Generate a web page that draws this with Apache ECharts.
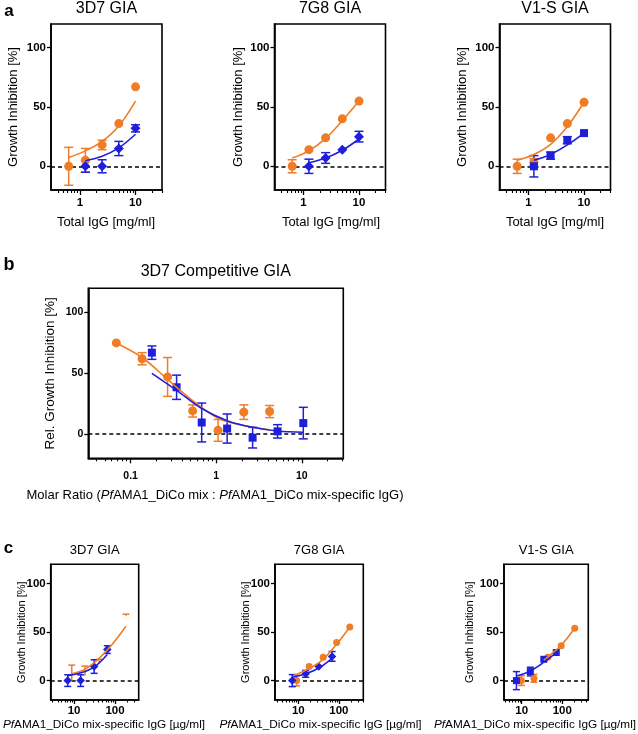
<!DOCTYPE html>
<html><head><meta charset="utf-8">
<script src="https://cdn.jsdelivr.net/npm/echarts@6/dist/echarts.min.js"></script>
<style>html,body{margin:0;padding:0;background:#fff}#c{width:638px;height:734px}</style>
</head><body><div id="c"></div>
<script>
// ---------------- DATA ----------------
// Panel a : x = Total IgG [mg/ml]
const aOrangeX = [0.625, 1.25, 2.5, 5, 10];
const aBlueX = [1.25, 2.5, 5, 10];

const a3D7_orangeY = [0, 5, 18, 36, 67];
const a3D7_orangeErr = [16, 10, 4, 0, 0];
const a3D7_blueY = [0, 0, 15, 32];
const a3D7_blueErr = [5, 5.5, 6, 3];
const a3D7_orangeFitY = [7.5, 13, 21, 34, 55];
const a3D7_blueFitY = [4.7, 8.5, 15.5, 27];

const a7G8_orangeY = [0, 14, 24, 40, 55];
const a7G8_orangeErr = [5.5, 0, 0, 0, 0];
const a7G8_blueY = [0, 7, 14, 25];
const a7G8_blueErr = [6, 4.5, 0, 4.5];
const a7G8_orangeFitY = [7, 13, 23.5, 38.5, 55];
const a7G8_blueFitY = [3, 7, 13.5, 23];

const aV1S_orangeY = [0, 3.5, 24, 36, 54];
const aV1S_orangeErr = [6, 3, 0, 0, 0];
const aV1S_blueY = [0, 9, 22, 28];
const aV1S_blueErr = [9, 3, 3, 0];
const aV1S_orangeFitY = [5, 10, 18.5, 33.5, 54];
const aV1S_blueFitY = [5, 10, 18, 28];

// Panel b : x = molar ratio
const bOrangeX = [0.068, 0.136, 0.27, 0.53, 1.05, 2.1, 4.2];
const bOrangeY = [75, 62, 47, 19, 3, 18, 18.5];
const bOrangeErr = [0, 5, 16, 5, 9, 6, 5];
const bBlueX = [0.177, 0.344, 0.676, 1.34, 2.66, 5.2, 10.4];
const bBlueY = [67, 38.5, 9.5, 4.5, -3, 2.2, 9];
const bBlueErr = [5.5, 10, 16, 12, 8.5, 5.5, 13];
const bOrangeFitX = [0.068, 0.136, 0.27, 0.53, 1.05, 2.1, 4.2];
const bOrangeFitY = [75, 63, 45, 27.5, 13, 7, 3.5];
const bBlueFitX = [0.177, 0.344, 0.676, 1.34, 2.66, 5.2, 10.4];
const bBlueFitY = [50, 36, 21, 11, 5.5, 2.5, 1.5];

// Panel c : x = PfAMA1_DiCo mix-specific IgG [ug/ml]
const c3D7_blueX = [7.0, 14.5, 31, 65];
const c3D7_blueY = [0, 0, 14.5, 32];
const c3D7_blueErr = [6, 6, 7, 4];
const c3D7_orangeX = [8.8, 18.5, 41, 88, 186];
const c3D7_orangeY = [0, 5, 18, 36, 67];
const c3D7_orangeErr = [16, 10, 4, 0, 1.5];
const c3D7_orangeFitX = [8.8, 18.5, 41, 88, 186];
const c3D7_orangeFitY = [7, 11.8, 23, 38, 56];
const c3D7_blueFitX = [7.0, 14.5, 31, 65];
const c3D7_blueFitY = [5, 8, 14, 27];

const c7G8_blueX = [7.1, 15.2, 32, 68];
const c7G8_blueY = [0, 7, 14.5, 25];
const c7G8_blueErr = [6.2, 3.5, 0, 5];
const c7G8_orangeX = [9.1, 18.6, 41, 88, 186];
const c7G8_orangeY = [0, 14.5, 24, 39.4, 55.4];
const c7G8_orangeErr = [5.5, 0, 0, 0, 0];
const c7G8_orangeFitX = [7.5, 18.6, 41, 88, 186];
const c7G8_orangeFitY = [5, 12.5, 22, 37.5, 55.4];
const c7G8_blueFitX = [7.1, 15.2, 32, 68];
const c7G8_blueFitY = [3.5, 7, 13, 23];

const cV1S_blueX = [7.4, 16.3, 35, 71];
const cV1S_blueY = [0, 9.3, 22, 29];
const cV1S_blueErr = [9.3, 4.5, 0, 0];
const cV1S_orangeX = [9.8, 20, 44, 94, 202];
const cV1S_orangeY = [0, 2.4, 24, 36, 54];
const cV1S_orangeErr = [5, 4, 0, 0, 0];
const cV1S_orangeFitX = [35, 44, 94, 202];
const cV1S_orangeFitY = [21, 24.5, 36.5, 54];
const cV1S_blueFitX = [7.4, 16.3, 35, 71];
const cV1S_blueFitY = [4.8, 10, 19, 29];

// Tick labels
const yTickValues = [0, 50, 100];
const aXLabels = [1, 10];
const aMinorTicks = [0.4, 0.5, 0.6, 0.7, 0.8, 0.9, 2, 3, 4, 5, 6, 7, 8, 9, 20, 30];
const bXLabels = [0.1, 1, 10];
const bMinorTicks = [0.04, 0.05, 0.06, 0.07, 0.08, 0.09, 0.2, 0.3, 0.4, 0.5, 0.6, 0.7, 0.8, 0.9, 2, 3, 4, 5, 6, 7, 8, 9, 20, 30];
const cXLabels = [10, 100];
const cMinorTicks = [3, 4, 5, 6, 7, 8, 9, 20, 30, 40, 50, 60, 70, 80, 90, 200, 300, 400];

// ---------------- RENDER ----------------
const ORANGE = '#EF7C26', BLUE = '#1F1FD9';
const FONT = '"Liberation Sans", Arial, Helvetica, sans-serif';
const option = { animation: false, backgroundColor: '#fff', grid: [], xAxis: [], yAxis: [], series: [], graphic: [] };

function pairs(xs, ys) { return xs.map((x, i) => [x, ys[i]]); }

function addText(text, x, y, size, opts) {
  opts = opts || {};
  option.graphic.push({
    type: 'text', x: x, y: y, rotation: opts.rot || 0, silent: true,
    style: {
      text: text, fontSize: size, fontFamily: FONT, fontWeight: opts.bold ? 'bold' : 'normal',
      fill: '#000', align: opts.align || 'center', verticalAlign: 'middle',
      rich: { i: { fontStyle: 'italic', fontSize: size, fontFamily: FONT, fill: '#000' } }
    }
  });
}

function addPanel(p) {
  const gi = option.grid.length;
  option.grid.push({ left: p.left, top: p.top, width: p.width, height: p.height, show: true, borderColor: '#000', borderWidth: 1.6, backgroundColor: 'transparent' });
  const lmin = Math.log10(p.xmin), lmax = Math.log10(p.xmax);
  const xi = option.xAxis.length;
  option.xAxis.push({ type: 'log', logBase: 10, gridIndex: gi, min: p.xmin, max: p.xmax,
    axisLine: { show: false }, axisTick: { show: false }, axisLabel: { show: false }, splitLine: { show: false } });
  option.xAxis.push({ type: 'value', gridIndex: gi, min: lmin, max: lmax, position: 'bottom',
    axisLine: { show: true, onZero: false, lineStyle: { color: '#000', width: 1.6 } },
    axisTick: { show: true, customValues: p.labels.map(Math.log10), length: p.majorLen, lineStyle: { color: '#000', width: 1.3 } },
    axisLabel: { customValues: p.labels.map(Math.log10), formatter: v => String(+Math.pow(10, v).toPrecision(3)),
      fontFamily: FONT, fontSize: p.tickFont, fontWeight: 'bold', color: '#000', margin: p.xLabelMargin },
    splitLine: { show: false } });
  option.xAxis.push({ type: 'value', gridIndex: gi, min: lmin, max: lmax, position: 'bottom',
    axisLine: { show: false, onZero: false },
    axisTick: { show: true, customValues: p.minor.map(Math.log10), length: p.minorLen, lineStyle: { color: '#000', width: 1.1 } },
    axisLabel: { show: false }, splitLine: { show: false } });
  const yi = option.yAxis.length;
  option.yAxis.push({ type: 'value', gridIndex: gi, min: -20, max: 120,
    axisLine: { show: true, onZero: false, lineStyle: { color: '#000', width: 1.6 } },
    axisTick: { show: true, customValues: yTickValues, length: 4, lineStyle: { color: '#000', width: 1.3 } },
    axisLabel: { customValues: yTickValues, fontFamily: FONT, fontSize: p.tickFont, fontWeight: 'bold', color: '#000', margin: 5 },
    splitLine: { show: false } });

  let first = true;
  p.sets.forEach(s => {
    const line = { type: 'line', xAxisIndex: xi, yAxisIndex: yi, data: pairs(s.fitX, s.fitY), smooth: 0.35,
      symbol: 'none', showSymbol: false, silent: true, lineStyle: { color: s.color, width: 1.6 } };
    if (first) {
      line.markLine = { silent: true, symbol: 'none', z: 1, animation: false, label: { show: false },
        lineStyle: { color: '#000', width: 1.7, type: [4, 3] }, data: [{ yAxis: 0 }] };
      first = false;
    }
    option.series.push(line);
    const errData = [];
    s.x.forEach((x, i) => {
      const e = s.err[i];
      if (e > 0) errData.push([x, s.y[i], s.upperOnly ? s.y[i] : s.y[i] - e, s.y[i] + e]);
    });
    const capW = p.capW, col = s.color;
    option.series.push({ type: 'custom', xAxisIndex: xi, yAxisIndex: yi, silent: true, encode: { x: 0, y: 1 },
      data: errData,
      renderItem: (params, api) => {
        const x = api.value(0), lo = api.value(2), hi = api.value(3), up = s.upperOnly;
        const a = api.coord([x, lo]), b = api.coord([x, hi]);
        const st = { stroke: col, lineWidth: 1.5, fill: null };
        const ch = [
          { type: 'line', shape: { x1: a[0], y1: a[1], x2: b[0], y2: b[1] }, style: st },
          { type: 'line', shape: { x1: b[0] - capW / 2, y1: b[1], x2: b[0] + capW / 2, y2: b[1] }, style: st }
        ];
        if (!up) ch.push({ type: 'line', shape: { x1: a[0] - capW / 2, y1: a[1], x2: a[0] + capW / 2, y2: a[1] }, style: st });
        return { type: 'group', children: ch };
      } });
    if (s.symbol !== 'none') {
      option.series.push({ type: 'scatter', xAxisIndex: xi, yAxisIndex: yi, silent: true, data: pairs(s.x, s.y),
        symbol: s.symbol, symbolSize: s.size, itemStyle: { color: s.color, opacity: 1 } });
    }
  });

  const cx = p.left + p.width / 2;
  addText(p.title, cx, p.titleY, p.titleFont);
  addText(p.yName, p.yNameX, p.top + p.height / 2, p.nameFont, { rot: Math.PI / 2 });
  addText(p.xName, p.xNameX, p.xNameY, p.xNameFont || p.nameFont);
}

// ----- panel a -----
const aCommon = { top: 24, width: 111, height: 166, xmin: 0.3, xmax: 30, labels: aXLabels, minor: aMinorTicks,
  tickFont: 11.5, xLabelMargin: 7, majorLen: 5, minorLen: 3, capW: 9, titleY: 9, titleFont: 16,
  yName: 'Growth Inhibition [%]', nameFont: 13, xName: 'Total IgG [mg/ml]', xNameY: 222 };
function aSets(oY, oE, bY, bE, oF, bF, bSym, bSize) {
  return [
    { color: ORANGE, x: aOrangeX, y: oY, err: oE, symbol: 'circle', size: 9, fitX: aOrangeX, fitY: oF },
    { color: BLUE, x: aBlueX, y: bY, err: bE, symbol: bSym, size: bSize, fitX: aBlueX, fitY: bF }
  ];
}
addPanel(Object.assign({}, aCommon, { left: 51, title: '3D7 GIA', yNameX: 13.5, xNameX: 106,
  sets: aSets(a3D7_orangeY, a3D7_orangeErr, a3D7_blueY, a3D7_blueErr, a3D7_orangeFitY, a3D7_blueFitY, 'diamond', 10) }));
addPanel(Object.assign({}, aCommon, { left: 274.5, title: '7G8 GIA', yNameX: 238.5, xNameX: 331,
  sets: aSets(a7G8_orangeY, a7G8_orangeErr, a7G8_blueY, a7G8_blueErr, a7G8_orangeFitY, a7G8_blueFitY, 'diamond', 10) }));
addPanel(Object.assign({}, aCommon, { left: 499.5, title: 'V1-S GIA', yNameX: 462, xNameX: 555,
  sets: aSets(aV1S_orangeY, aV1S_orangeErr, aV1S_blueY, aV1S_blueErr, aV1S_orangeFitY, aV1S_blueFitY, 'rect', 8) }));

// ----- panel b -----
addPanel({ left: 88.3, top: 288.3, width: 255, height: 170, xmin: 0.032, xmax: 30.5, labels: bXLabels, minor: bMinorTicks,
  tickFont: 10.5, xLabelMargin: 12, majorLen: 5, minorLen: 3, capW: 9, titleY: 271.5, titleFont: 16,
  title: '3D7 Competitive GIA', yName: 'Rel. Growth Inhibition [%]', yNameX: 50, nameFont: 13.5,
  xName: 'Molar Ratio ({i|Pf}AMA1_DiCo mix : {i|Pf}AMA1_DiCo mix-specific IgG)', xNameX: 215, xNameY: 495, xNameFont: 13,
  sets: [
    { color: ORANGE, x: bOrangeX, y: bOrangeY, err: bOrangeErr, symbol: 'circle', size: 9, fitX: bOrangeFitX, fitY: bOrangeFitY },
    { color: BLUE, x: bBlueX, y: bBlueY, err: bBlueErr, symbol: 'rect', size: 8, fitX: bBlueFitX, fitY: bBlueFitY }
  ] });

// ----- panel c -----
const cCommon = { top: 564.3, height: 135.7, labels: cXLabels, minor: cMinorTicks, tickFont: 11.5, xLabelMargin: 5,
  majorLen: 4, minorLen: 2.5, capW: 7, titleY: 550, titleFont: 13, yName: 'Growth Inhibition [%]', nameFont: 11,
  xName: '{i|Pf}AMA1_DiCo mix-specific IgG [µg/ml]', xNameY: 725, xNameFont: 11.8 };
addPanel(Object.assign({}, cCommon, { left: 50.7, width: 88, xmin: 2.69, xmax: 380, title: '3D7 GIA', yNameX: 21.7, xNameX: 104,
  sets: [
    { color: ORANGE, x: c3D7_orangeX, y: c3D7_orangeY, err: c3D7_orangeErr, upperOnly: true, symbol: 'none', size: 0, fitX: c3D7_orangeFitX, fitY: c3D7_orangeFitY },
    { color: BLUE, x: c3D7_blueX, y: c3D7_blueY, err: c3D7_blueErr, symbol: 'diamond', size: 8.5, fitX: c3D7_blueFitX, fitY: c3D7_blueFitY }
  ] }));
addPanel(Object.assign({}, cCommon, { left: 275, width: 88.3, xmin: 2.67, xmax: 400, title: '7G8 GIA', yNameX: 245.5, xNameX: 320.5,
  sets: [
    { color: ORANGE, x: c7G8_orangeX, y: c7G8_orangeY, err: c7G8_orangeErr, symbol: 'circle', size: 7, fitX: c7G8_orangeFitX, fitY: c7G8_orangeFitY },
    { color: BLUE, x: c7G8_blueX, y: c7G8_blueY, err: c7G8_blueErr, symbol: 'diamond', size: 8.5, fitX: c7G8_blueFitX, fitY: c7G8_blueFitY }
  ] }));
addPanel(Object.assign({}, cCommon, { left: 504, width: 84.3, xmin: 3.66, xmax: 437, title: 'V1-S GIA', yNameX: 470.3, xNameX: 535,
  sets: [
    { color: ORANGE, x: cV1S_orangeX, y: cV1S_orangeY, err: cV1S_orangeErr, symbol: 'circle', size: 7, fitX: cV1S_orangeFitX, fitY: cV1S_orangeFitY },
    { color: BLUE, x: cV1S_blueX, y: cV1S_blueY, err: cV1S_blueErr, symbol: 'rect', size: 7, fitX: cV1S_blueFitX, fitY: cV1S_blueFitY }
  ] }));

// panel letters
addText('a', 9, 11.5, 17, { bold: true });
addText('b', 9, 265, 18, { bold: true });
addText('c', 8.5, 548, 17, { bold: true });

const chart = echarts.init(document.getElementById('c'), null, { renderer: 'canvas', width: 638, height: 734 });
chart.setOption(option);
</script></body></html>
